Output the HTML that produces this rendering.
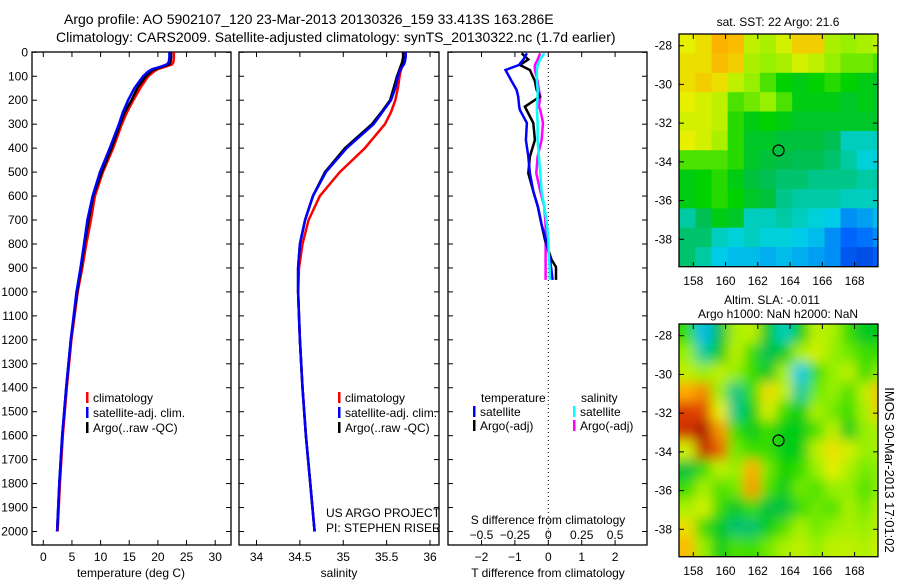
<!DOCTYPE html>
<html><head><meta charset="utf-8"><style>
body{margin:0;background:#fff}
svg text{font-family:"Liberation Sans",sans-serif;fill:#000}
</style></head><body>
<svg id="c" width="900" height="580" xmlns="http://www.w3.org/2000/svg">
<defs><filter id="bl" x="0" y="0" width="100%" height="100%"><feGaussianBlur stdDeviation="6"/></filter>
<clipPath id="cm1"><rect x="679" y="34" width="199" height="233"/></clipPath>
<clipPath id="cm2"><rect x="679" y="324" width="199" height="233"/></clipPath>
<clipPath id="cp3"><rect x="448" y="52" width="199" height="493"/></clipPath></defs>
<text x="64" y="24" font-size="14">Argo profile: AO 5902107_120 23-Mar-2013 20130326_159 33.413S 163.286E</text>
<text x="56" y="42" font-size="14">Climatology: CARS2009. Satellite-adjusted climatology: synTS_20130322.nc (1.7d earlier)</text>
<g id="g"></g>
</svg>
<script>
const depths=[0,20,40,50,60,70,80,100,150,200,250,300,400,500,600,700,800,900,1000,1200,1400,1600,1800,2000];
const tClim=[22.8,22.8,22.7,22.5,21.3,20.0,19.3,18.3,16.9,15.7,14.6,13.7,12.2,10.4,9.0,8.3,7.5,6.8,6.0,4.9,4.1,3.4,2.9,2.5];
const tSat=[22.0,22.0,21.9,21.6,20.5,19.0,18.3,17.4,15.9,14.8,13.9,13.2,11.6,9.9,8.6,7.7,7.1,6.5,5.8,4.8,4.0,3.3,2.8,2.4];
const tArgo=[22.3,22.3,22.2,22.0,20.8,19.5,18.8,17.9,16.4,15.4,14.2,13.4,11.9,10.2,8.7,7.9,7.2,6.6,5.9,4.8,4.0,3.3,2.8,2.4];
const sClim=[35.70,35.70,35.70,35.69,35.68,35.67,35.66,35.65,35.63,35.60,35.55,35.48,35.25,34.96,34.73,34.60,34.53,34.49,34.48,34.50,34.53,34.57,34.62,34.67];
const sSat=[35.72,35.72,35.71,35.70,35.68,35.66,35.65,35.63,35.60,35.55,35.45,35.35,35.04,34.80,34.65,34.56,34.50,34.48,34.48,34.50,34.53,34.57,34.62,34.67];
const sArgo=[35.69,35.69,35.68,35.67,35.66,35.65,35.64,35.62,35.58,35.54,35.44,35.33,35.02,34.79,34.65,34.56,34.50,34.48,34.48,34.50,34.53,34.57,34.62,34.67];
const dDepth=[4,30,53,74,120,157,185,227,241,295,366,435,505,580,645,720,784,866,896,950];
const dTSat=[-0.64,-0.75,-0.88,-1.28,-1.1,-0.95,-0.9,-0.87,-0.85,-0.64,-0.67,-0.6,-0.55,-0.45,-0.31,-0.2,-0.07,0.05,0.08,0.13];
const dTArgo=[-0.8,-0.6,-0.85,-0.55,-0.4,-0.35,-0.25,-0.7,-0.65,-0.45,-0.4,-0.55,-0.6,-0.45,-0.31,-0.2,-0.1,0.1,0.23,0.23];
const dSArgo=[-0.06,-0.08,-0.1,-0.1,-0.08,-0.07,-0.06,-0.07,-0.06,-0.04,-0.05,-0.08,-0.09,-0.06,-0.03,-0.02,-0.02,-0.02,-0.02,-0.02];
const dSSat=[-0.03,-0.06,-0.08,-0.085,-0.085,-0.08,-0.08,-0.085,-0.085,-0.08,-0.08,-0.07,-0.06,-0.05,-0.03,-0.01,0,0.005,0.01,0.012];
const depthTicks=[0,100,200,300,400,500,600,700,800,900,1000,1100,1200,1300,1400,1500,1600,1700,1800,1900,2000];
const tTicks=[0,5,10,15,20,25,30];
const sTicks=[34,34.5,35,35.5,36];
const dTTicks=[-2,-1,0,1,2];
const dSTicks=[-0.5,-0.25,0,0.25,0.5];
const lonTicks=[158,160,162,164,166,168];
const latTicks=[-28,-30,-32,-34,-36,-38];
const sstGrid=[
[0.68,0.7,0.75,0.74,0.64,0.62,0.66,0.72,0.72,0.62,0.6,0.62,0.64],
[0.7,0.7,0.74,0.72,0.62,0.6,0.62,0.66,0.64,0.6,0.58,0.58,0.56],
[0.7,0.72,0.7,0.64,0.6,0.56,0.52,0.5,0.52,0.54,0.52,0.5,0.48],
[0.68,0.66,0.64,0.56,0.58,0.6,0.56,0.5,0.5,0.5,0.48,0.5,0.48],
[0.66,0.66,0.64,0.54,0.5,0.52,0.5,0.48,0.48,0.48,0.48,0.48,0.48],
[0.68,0.66,0.62,0.54,0.48,0.48,0.46,0.46,0.46,0.44,0.36,0.36,0.36],
[0.56,0.56,0.56,0.54,0.48,0.46,0.45,0.44,0.44,0.42,0.38,0.34,0.34],
[0.5,0.52,0.54,0.5,0.46,0.44,0.42,0.42,0.4,0.4,0.4,0.38,0.38],
[0.5,0.52,0.54,0.52,0.48,0.46,0.4,0.38,0.38,0.38,0.36,0.36,0.36],
[0.38,0.44,0.5,0.48,0.36,0.36,0.38,0.36,0.34,0.32,0.24,0.26,0.3],
[0.42,0.42,0.36,0.34,0.36,0.34,0.34,0.32,0.3,0.24,0.18,0.2,0.24],
[0.42,0.38,0.32,0.3,0.3,0.28,0.3,0.28,0.26,0.24,0.14,0.12,0.16]];
const slaGrid=[
[0.55,0.3,0.45,0.62,0.64,0.48,0.36,0.5,0.64,0.62,0.55,0.48,0.5],
[0.6,0.38,0.5,0.64,0.55,0.44,0.5,0.62,0.66,0.6,0.58,0.55,0.55],
[0.64,0.6,0.64,0.6,0.55,0.48,0.62,0.32,0.55,0.6,0.64,0.55,0.6],
[0.76,0.8,0.6,0.4,0.55,0.7,0.64,0.38,0.58,0.6,0.56,0.64,0.74],
[0.88,0.86,0.68,0.4,0.5,0.66,0.55,0.5,0.62,0.58,0.55,0.62,0.72],
[0.9,0.96,0.78,0.55,0.5,0.55,0.5,0.5,0.56,0.64,0.5,0.6,0.62],
[0.66,0.92,0.84,0.58,0.55,0.55,0.5,0.5,0.64,0.7,0.66,0.6,0.62],
[0.46,0.55,0.64,0.6,0.76,0.58,0.52,0.55,0.6,0.68,0.62,0.58,0.6],
[0.55,0.62,0.56,0.58,0.78,0.56,0.5,0.58,0.56,0.6,0.6,0.56,0.6],
[0.62,0.66,0.55,0.48,0.55,0.46,0.46,0.55,0.58,0.56,0.62,0.58,0.64],
[0.7,0.55,0.48,0.42,0.42,0.5,0.56,0.62,0.58,0.6,0.62,0.6,0.64],
[0.74,0.6,0.5,0.56,0.55,0.58,0.62,0.64,0.6,0.64,0.64,0.62,0.66]];
const argoLon=163.286, argoLat=-33.413;

const NS="http://www.w3.org/2000/svg";const G=document.getElementById('g');
function mk(t,a,p){const e=document.createElementNS(NS,t);for(const k in a)e.setAttribute(k,a[k]);(p||G).appendChild(e);return e;}
const B=545;
const yD=d=>52.3+d*0.2396;
const xT=t=>43.3+t*5.73;
const xS=s=>256.5+(s-34)*86.75;
const xDT=t=>548.3+t*33.4;
const xDS=s=>548.3+s*4*33.4;
const xLon=l=>693.3+(l-158)*16.13;
const yLat=l=>45.7+(-28-l)*19.36;
function frame(x0,x1,y0,y1,name){const r=mk('rect',{x:x0,y:y0,width:x1-x0,height:y1-y0,fill:'none',stroke:'#000','stroke-width':1.3});}
function line(xs,ys,col,name,w,clip){const p=mk('polyline',{points:xs.map((x,i)=>x.toFixed(1)+','+ys[i].toFixed(1)).join(' '),fill:'none',stroke:col,'stroke-width':w||2.5});if(clip)p.setAttribute('clip-path',clip);}
function txt(x,y,s,anchor,name,fs){const t=mk('text',{x:x,y:y,'font-size':fs||12,'text-anchor':anchor||'start'});t.textContent=s;return t;}
const panels=[[32,231],[239,439],[448,647]];
panels.forEach((p,i)=>{
 frame(p[0],p[1],52,B,'profile-panel-'+(i+1));
 depthTicks.forEach(d=>{const y=yD(d);mk('line',{x1:p[0],x2:p[0]+5,y1:y,y2:y,stroke:'#000'});mk('line',{x1:p[1]-5,x2:p[1],y1:y,y2:y,stroke:'#000'});});
});
depthTicks.forEach(d=>txt(28,yD(d)+4,String(d),'end','depth-tick-label'));
function xt(x){mk('line',{x1:x,x2:x,y1:B-5,y2:B,stroke:'#000'});mk('line',{x1:x,x2:x,y1:52,y2:57,stroke:'#000'});}
tTicks.forEach(t=>{const x=xT(t);xt(x);txt(x,561,String(t),'middle','temp-tick-label');});
sTicks.forEach(s=>{const x=xS(s);xt(x);txt(x,561,String(s),'middle','salinity-tick-label');});
dTTicks.forEach(t=>{const x=xDT(t);xt(x);txt(x,561,String(t).replace('-','\u2212'),'middle','tdiff-tick-label');});
dSTicks.forEach(s=>txt(xDS(s),539,String(s).replace('-','\u2212'),'middle','sdiff-tick-label'));
txt(131,577,'temperature (deg C)','middle','temp-axis-title');
txt(339,577,'salinity','middle','salinity-axis-title');
txt(548,577,'T difference from climatology','middle','tdiff-axis-title');
txt(548,524,'S difference from climatology','middle','sdiff-axis-title');
mk('line',{x1:xDT(0),x2:xDT(0),y1:52,y2:B,stroke:'#000','stroke-dasharray':'1,3'});
const Y=depths.map(yD),YD=dDepth.map(yD);
line(tClim.map(xT),Y,'#f00','temp-climatology-line');
line(tArgo.map(xT),Y,'#000','temp-argo-line');
line(tSat.map(xT),Y,'#00f','temp-satellite-line');
line(sClim.map(xS),Y,'#f00','sal-climatology-line');
line(sArgo.map(xS),Y,'#000','sal-argo-line');
line(sSat.map(xS),Y,'#00f','sal-satellite-line');
line(dSArgo.map(xDS),YD,'#f0f','sdiff-argo-line',2.5,'url(#cp3)');
line(dTArgo.map(xDT),YD,'#000','tdiff-argo-line',2.5,'url(#cp3)');
line(dTSat.map(xDT),YD,'#00f','tdiff-satellite-line',2.5,'url(#cp3)');
line(dSSat.map(xDS),YD,'#0ff','sdiff-satellite-line',2.5,'url(#cp3)');
function leg(x,y,col,label,name){mk('rect',{x:x,y:y-10,width:2.5,height:11,fill:col});txt(x+7,y,label,'start',name);}
[[86,'#f00','climatology'],[86,'#00f','satellite-adj. clim.'],[86,'#000','Argo(..raw -QC)']].forEach((l,i)=>leg(l[0],402+i*15,l[1],l[2],'temp-legend-entry'));
[[338,'#f00','climatology'],[338,'#00f','satellite-adj. clim.'],[338,'#000','Argo(..raw -QC)']].forEach((l,i)=>leg(l[0],402+i*15,l[1],l[2],'sal-legend-entry'));
txt(481,402,'temperature','start','legend-heading-temperature');
txt(581,402,'salinity','start','legend-heading-salinity');
leg(473,416,'#00f','satellite','tdiff-legend-satellite');leg(473,430,'#000','Argo(-adj)','tdiff-legend-argo');
leg(573,416,'#0ff','satellite','sdiff-legend-satellite');leg(573,430,'#f0f','Argo(-adj)','sdiff-legend-argo');
txt(326,517,'US ARGO PROJECT','start','project-label');txt(326,532,'PI: STEPHEN RISER','start','pi-label');
const stops=[[0,[0,40,180]],[0.18,[0,100,255]],[0.33,[0,210,230]],[0.45,[0,190,70]],[0.52,[0,210,0]],[0.6,[150,240,0]],[0.68,[230,240,0]],[0.76,[255,170,0]],[0.88,[220,60,0]],[1,[150,0,0]]];
function cmap(v){for(let i=1;i<stops.length;i++){if(v<=stops[i][0]){const a=stops[i-1],b=stops[i],f=(v-a[0])/(b[0]-a[0]);return 'rgb('+a[1].map((c,k)=>Math.round(c+(b[1][k]-c)*f)).join(',')+')';}}return 'rgb(150,0,0)';}
function drawMap(grid,yOff,clip,name,blur){
 const g=mk('g',{'clip-path':clip});
 const inner=mk('g',blur?{filter:'url(#bl)'}:{},g);
 grid.forEach((row,r)=>row.forEach((v,c)=>{const lat=-27.4-r,lon=157.13+c;
  const x=xLon(lon),y=yLat(lat)+yOff,w=xLon(lon+1)-x,h=yLat(lat-1)-yLat(lat);
  const ex=blur?14:0;
  mk('rect',{x:x-(c==0?ex:0),y:y-(r==0?ex:0),width:w+0.5+(c==0||c==row.length-1?ex:0),height:h+0.5+(r==0||r==grid.length-1?ex:0),fill:cmap(v)},inner);}));
 frame(679,878,34+yOff,266.7+yOff,name+'-frame');
 lonTicks.forEach(l=>{const x=xLon(l);mk('line',{x1:x,x2:x,y1:34+yOff,y2:39+yOff,stroke:'#000'});mk('line',{x1:x,x2:x,y1:262+yOff,y2:267+yOff,stroke:'#000'});txt(x,285+yOff,String(l),'middle','lon-tick-label');});
 latTicks.forEach(l=>{const y=yLat(l)+yOff;mk('line',{x1:679,x2:684,y1:y,y2:y,stroke:'#000'});mk('line',{x1:873,x2:878,y1:y,y2:y,stroke:'#000'});txt(672,y+4,String(l),'end','lat-tick-label');});
 const c=mk('circle',{cx:xLon(argoLon),cy:yLat(argoLat)+yOff,r:5.5,fill:'none',stroke:'#000','stroke-width':1.2});
}
drawMap(sstGrid,0,'url(#cm1)','sst-map',false);
drawMap(slaGrid,290,'url(#cm2)','sla-map',true);
txt(778,26,'sat. SST: 22 Argo: 21.6','middle','sst-map-title');
txt(772,304,'Altim. SLA: -0.011','middle','sla-map-title');
txt(778,318,'Argo h1000: NaN h2000: NaN','middle','sla-map-subtitle');
const v=txt(0,0,'IMOS 30-Mar-2013 17:01:02','middle','imos-timestamp',13);v.setAttribute('transform','translate(885,470) rotate(90)');
</script>
</body></html>
